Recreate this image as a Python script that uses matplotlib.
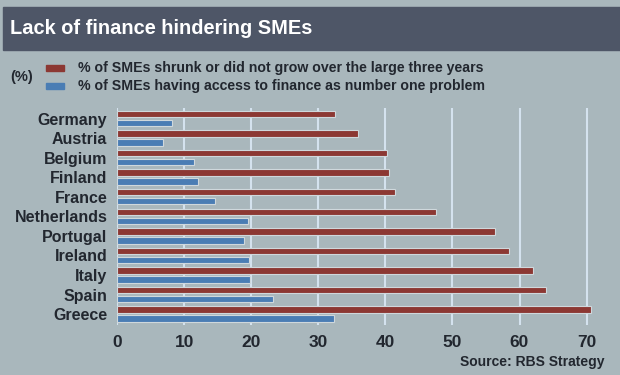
import matplotlib
matplotlib.use("Agg")
import matplotlib.pyplot as plt
from matplotlib.patches import Rectangle
import numpy as np

countries = ["Germany", "Austria", "Belgium", "Finland", "France", "Netherlands",
             "Portugal", "Ireland", "Italy", "Spain", "Greece"]
shrunk = [32.5, 35.9, 40.3, 40.5, 41.4, 47.6, 56.4, 58.4, 62.0, 63.9, 70.7]
finance = [8.2, 6.9, 11.5, 12.1, 14.6, 19.6, 19.0, 19.7, 19.9, 23.3, 32.3]
xticks = [0, 10, 20, 30, 40, 50, 60, 70]

BG = "#a9b7bc"
BAND = "#4e5667"
RED = "#8c3833"
BLUE = "#4a7db4"
TXT = "#22272f"
GRID = "#d4e2ee"

plt.rcParams["font.family"] = ["Liberation Sans", "DejaVu Sans"]

fig = plt.figure(figsize=(6.2, 3.75), dpi=100, facecolor=BG)
fig.patches.append(Rectangle((3 / 620, 1 - 50 / 375), 617 / 620, 43 / 375,
                             transform=fig.transFigure, color=BAND, zorder=0))
fig.text(10 / 620, 1 - 29 / 375, "Lack of finance hindering SMEs", color="white",
         fontsize=14.4, fontweight="bold", va="center", ha="left")

# legend
fig.text(10 / 620, 1 - 77 / 375, "(%)", color=TXT, fontsize=10.5, fontweight="bold",
         va="center", ha="left")
for y, c, lab in [(68, RED, "% of SMEs shrunk or did not grow over the large three years"),
                  (86, BLUE, "% of SMEs having access to finance as number one problem")]:
    fig.patches.append(Rectangle((46 / 620, 1 - (y + 3) / 375), 18 / 620, 6 / 375,
                                 transform=fig.transFigure, color=c, zorder=1))
    fig.text(78 / 620, 1 - y / 375, lab, color=TXT, fontsize=10.2, fontweight="bold",
             va="center", ha="left")

ax = fig.add_axes([117 / 620, 50 / 375, 483 / 620, 217 / 375])
ax.set_facecolor(BG)
y = np.arange(len(countries))
ax.barh(y - 0.23, shrunk, height=0.33, color=RED, edgecolor="#cfd8dc", linewidth=0.8, zorder=3)
ax.barh(y + 0.23, finance, height=0.33, color=BLUE, edgecolor="#cfd8dc", linewidth=0.8, zorder=3)
ax.set_xlim(0, 72)
ax.set_ylim(10.56, -0.54)
ax.set_xticks(xticks)
ax.set_yticks(y)
ax.set_yticklabels(countries)
for v in xticks:
    ax.axvline(v, color=GRID, lw=1.5, zorder=1)
for s in ax.spines.values():
    s.set_visible(False)
ax.tick_params(axis="both", length=0, colors=TXT)
ax.tick_params(axis="x", pad=7, labelsize=12.5)
ax.tick_params(axis="y", pad=7, labelsize=11.5)
for lab in ax.get_xticklabels() + ax.get_yticklabels():
    lab.set_fontweight("bold")

fig.text(605 / 620, 1 - 362 / 375, "Source: RBS Strategy", color=TXT, fontsize=10,
         fontweight="bold", va="center", ha="right")

fig.savefig("out.png", dpi=100, facecolor=BG)
